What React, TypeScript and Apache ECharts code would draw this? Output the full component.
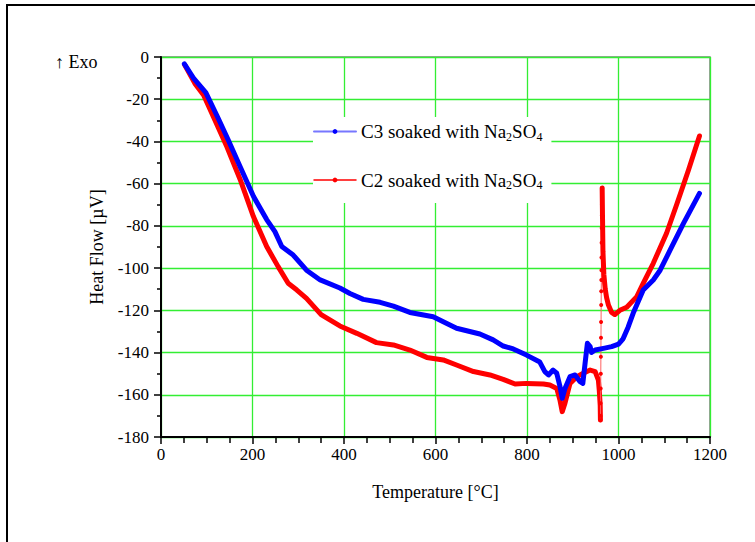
import { useEffect, useRef } from 'react';
import * as echarts from 'echarts';

const FONT = 'Liberation Serif';

const C3_NAME = 'C3 soaked with Na2SO4';
const C2_NAME = 'C2 soaked with Na2SO4';

// C3 (blue) readings
const c3Temp = [51, 71, 98, 125, 147, 173, 202, 231, 249, 264, 289, 318, 348, 391, 413, 442, 479, 508, 544, 595, 617, 646, 697, 726, 748, 770, 799, 828, 839, 847, 857, 865, 872, 877, 883, 894, 905, 916, 922, 927, 932, 938, 941, 949, 967, 985, 1000, 1010, 1021, 1032, 1054, 1076, 1091, 1113, 1142, 1177];
const c3Heat = [-3.3, -10, -16.9, -29, -39.3, -52, -66, -77, -82.7, -89.8, -93.8, -101, -105.6, -109.4, -112, -114.8, -116.2, -118, -121, -123, -125.4, -128.5, -131.2, -134, -136.9, -138.3, -141.2, -144.5, -149, -150.6, -148.3, -149.8, -156, -161.7, -157, -151.4, -150.6, -153.8, -154.6, -145, -135.6, -137.2, -140, -138.8, -138, -137.2, -136, -133.5, -128, -121.4, -110.4, -105.6, -101, -91.4, -78.8, -64.6];

// C2 (red) readings: main part up to the dip
const c2Temp = [52, 74, 93, 114, 144, 173, 202, 231, 256, 278, 297, 318, 350, 391, 428, 471, 508, 544, 581, 617, 646, 683, 719, 748, 774, 799, 836, 850, 865, 872, 877, 883, 894, 909, 923, 938, 949, 956, 958, 960, 960.5];
const c2Heat = [-3.8, -12.5, -18, -28, -42.5, -58, -75.6, -89.8, -99.3, -107.2, -110.4, -114.3, -122, -127.4, -130.9, -135.3, -136.4, -138.8, -142.3, -143.5, -145.9, -149, -150.6, -152.7, -154.9, -154.6, -154.9, -155.4, -157, -162.5, -168, -164, -154.6, -151.4, -149.8, -148.3, -149, -153, -158, -165, -172];

// C2 fast spike (sparse samples)
const c2SpikeTemp = [960.5, 960.7, 960.9, 961.1, 961.3, 961.5, 961.7, 961.9, 962.1, 962.3, 962.5, 962.7, 962.9, 963.1, 963.3, 963.5, 963.7, 963.9, 964.1, 964.3];
const c2SpikeHeat = [-172, -170, -164, -157, -150, -142, -133, -125.5, -117.5, -111, -105.6, -101, -95, -88, -81, -75, -70, -66, -63, -62];

// C2 tail after the spike
const c2TailTemp = [964.3, 965, 966, 968, 971, 974, 978, 985, 992, 1003, 1018, 1040, 1054, 1076, 1105, 1127, 1153, 1177];
const c2TailHeat = [-62, -75, -92, -103, -110, -114, -117.5, -121, -122, -120, -118.5, -113.5, -107.2, -97.7, -83.5, -70, -53.5, -37.4];

const zip = (a: number[], b: number[]) => a.map((t, i) => [t, b[i]]);

export default function App() {
  const ref = useRef<HTMLDivElement>(null);
  useEffect(() => {
    if (!ref.current) return;
    const chart = echarts.init(ref.current, undefined, { renderer: 'svg' });
    const thick = (color: string) => ({
      color,
      width: 5,
      cap: 'round' as const,
      join: 'round' as const,
    });
    chart.setOption({
      animation: false,
      backgroundColor: '#fff',
      textStyle: { fontFamily: FONT },
      grid: {
        left: 161, top: 57, right: 45, bottom: 105,
        show: true, borderColor: '#808080', borderWidth: 1.5,
      },
      xAxis: {
        type: 'value', min: 0, max: 1200, interval: 200,
        name: 'Temperature [°C]', nameLocation: 'middle', nameGap: 46,
        nameTextStyle: { fontFamily: FONT, fontSize: 18, color: '#000' },
        axisLine: { show: true, onZero: false, lineStyle: { color: '#000', width: 2 } },
        axisTick: { show: true, inside: false, length: 7, lineStyle: { color: '#000', width: 1.5 } },
        minorTick: { show: true, splitNumber: 4, length: 6, lineStyle: { color: '#000', width: 1.5 } },
        axisLabel: { fontFamily: FONT, fontSize: 17, color: '#000', margin: 9, formatter: (v: number) => String(v) },
        splitLine: { show: true, lineStyle: { color: '#33ee33', width: 1.3 } },
      },
      yAxis: {
        type: 'value', min: -180, max: 0, interval: 20,
        name: 'Heat Flow [µV]', nameLocation: 'middle', nameGap: 55, nameRotate: 90,
        nameTextStyle: { fontFamily: FONT, fontSize: 18, color: '#000' },
        axisLine: { show: true, onZero: false, lineStyle: { color: '#000', width: 2 } },
        axisTick: { show: true, inside: false, length: 7, lineStyle: { color: '#000', width: 1.5 } },
        minorTick: { show: true, splitNumber: 2, length: 4, lineStyle: { color: '#000', width: 1.5 } },
        axisLabel: { fontFamily: FONT, fontSize: 17, color: '#000', margin: 12, formatter: (v: number) => String(v) },
        splitLine: { show: true, lineStyle: { color: '#33ee33', width: 1.3 } },
      },
      legend: {
        orient: 'vertical', left: 313, top: 117,
        itemWidth: 42, itemHeight: 6, itemGap: 28,
        padding: [5, 9, 12, 0],
        backgroundColor: '#fff',
        data: [
          { name: C3_NAME, itemStyle: { color: '#0000ff' }, lineStyle: { color: '#7777ff', width: 2 } },
          { name: C2_NAME, itemStyle: { color: '#ff0000' }, lineStyle: { color: '#ff0000', width: 1.5 } },
        ],
        formatter: (name: string) =>
          name === C3_NAME
            ? '{t|C3 soaked with Na}{s|2}{t|SO}{s|4}'
            : '{t|C2 soaked with Na}{s|2}{t|SO}{s|4}',
        textStyle: {
          fontFamily: FONT, fontSize: 19, color: '#000',
          rich: {
            t: { fontFamily: FONT, fontSize: 19, color: '#000', lineHeight: 22 },
            s: { fontFamily: FONT, fontSize: 12, color: '#000', lineHeight: 12, verticalAlign: 'bottom' },
          },
        },
      },
      graphic: [
        {
          type: 'rect', silent: true, z: 100,
          shape: { x: 7, y: 5, width: 800, height: 600 },
          style: { fill: 'none', stroke: '#000', lineWidth: 2 },
        },
        {
          type: 'text', x: 55, y: 53, z: 100,
          style: { text: '↑ Exo', fontFamily: FONT, fontSize: 18, fill: '#000' },
        },
      ],
      series: [
        {
          name: C2_NAME, type: 'line', data: zip(c2Temp, c2Heat),
          symbol: 'circle', showSymbol: false, lineStyle: thick('#ff0000'), itemStyle: { color: '#ff0000' }, z: 2,
        },
        {
          name: C2_NAME, type: 'line', data: zip(c2SpikeTemp, c2SpikeHeat),
          symbol: 'circle', symbolSize: 4, showSymbol: true, showAllSymbol: true,
          lineStyle: { color: '#ff6060', width: 1 }, itemStyle: { color: '#ff0000' }, z: 2,
        },
        {
          name: C2_NAME, type: 'line', data: zip(c2TailTemp, c2TailHeat),
          symbol: 'circle', showSymbol: false, lineStyle: thick('#ff0000'), itemStyle: { color: '#ff0000' }, z: 2,
        },
        {
          name: C3_NAME, type: 'line', data: zip(c3Temp, c3Heat),
          symbol: 'circle', showSymbol: false, lineStyle: thick('#0000ff'), itemStyle: { color: '#0000ff' }, z: 3,
        },
      ],
    });
    return () => chart.dispose();
  }, []);
  return (
    <div
      ref={ref}
      style={{ position: 'absolute', left: 0, top: 0, width: 755, height: 542 }}
    />
  );
}
